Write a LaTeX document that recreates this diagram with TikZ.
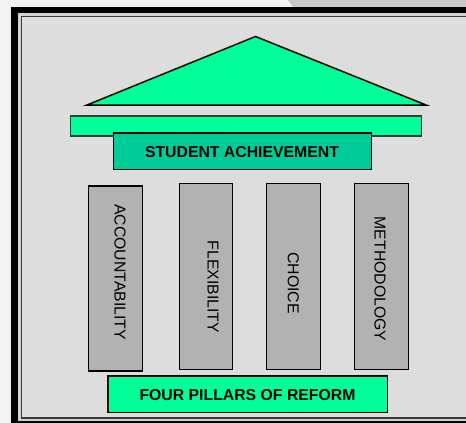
\documentclass[tikz,border=0pt]{standalone}
\usepackage{fontspec}
\setmainfont{Liberation Sans}
\definecolor{outerbg}{HTML}{F5F3F2}
\definecolor{corner}{HTML}{C8C8C8}
\definecolor{gapgray}{HTML}{D2D2D2}
\definecolor{panel}{HTML}{DDDDDD}
\definecolor{lineg}{HTML}{3A3A3A}
\definecolor{brightgreen}{HTML}{00FF99}
\definecolor{teal}{HTML}{00CC99}
\definecolor{pillargray}{HTML}{B2B2B2}
\begin{document}
\begin{tikzpicture}[x=1pt,y=-1pt,
  box/.style={draw=black, line width=1.3pt, inner sep=0pt, outer sep=0pt},
  greenbox/.style={box, fill=brightgreen},
  tealbox/.style={box, fill=teal},
  pillar/.style={box, fill=pillargray},
  ptext/.style={rotate=-90, inner sep=0pt, font=\fontsize{15.8}{19}\selectfont},
  btext/.style={inner sep=0pt, font=\fontsize{15.8}{19}\selectfont\bfseries}]
\useasboundingbox (0,0) rectangle (466,423);
% surroundings
\fill[outerbg] (0,0) rectangle (466,423);
\fill[corner] (288,0) -- (466,0) -- (466,7) -- (293,7) -- cycle;
% frame
\fill[black] (11,6.5) rectangle (490,445);
\fill[gapgray] (18,13) rectangle (483,421);
\draw[lineg, line width=1.4pt, fill=panel] (21.5,16.5) rectangle (478,418);
% roof
\coordinate (apex) at (255.5,36.5);
\coordinate (rl) at (87,105);
\coordinate (rr) at (426,105);
\draw[line width=1.5pt, fill=brightgreen, line join=miter] (rl) -- (apex) -- (rr) -- cycle;
% beam
\node[greenbox, line width=1.1pt, draw=lineg, minimum width=351pt, minimum height=20pt] (beam) at (246.2,126) {};
\node[tealbox, minimum width=258pt, minimum height=36.3pt] (sa) at (242.3,151.2) {};
\node[btext] (satext) at (242,152.3) {STUDENT ACHIEVEMENT};
% pillars
\node[pillar, minimum width=54pt, minimum height=185pt] (p1) at (115.3,278.5) {};
\node[pillar, minimum width=53.4pt, minimum height=186pt] (p2) at (206,276.7) {};
\node[pillar, minimum width=54pt, minimum height=186pt] (p3) at (293.7,276.7) {};
\node[pillar, minimum width=54.4pt, minimum height=186pt] (p4) at (381.5,276.7) {};
\node[ptext] (t1) at (120,272) {ACCOUNTABILITY};
\node[ptext] (t2) at (213,287) {FLEXIBILITY};
\node[ptext] (t3) at (293.3,283) {CHOICE};
\node[ptext] (t4) at (380,279) {METHODOLOGY};
% base
\node[greenbox, line width=1.6pt, minimum width=279.6pt, minimum height=36.3pt] (base) at (247.5,394.2) {};
\node[btext] (basetext) at (247.5,395.3) {FOUR PILLARS OF REFORM};
\end{tikzpicture}
\end{document}
